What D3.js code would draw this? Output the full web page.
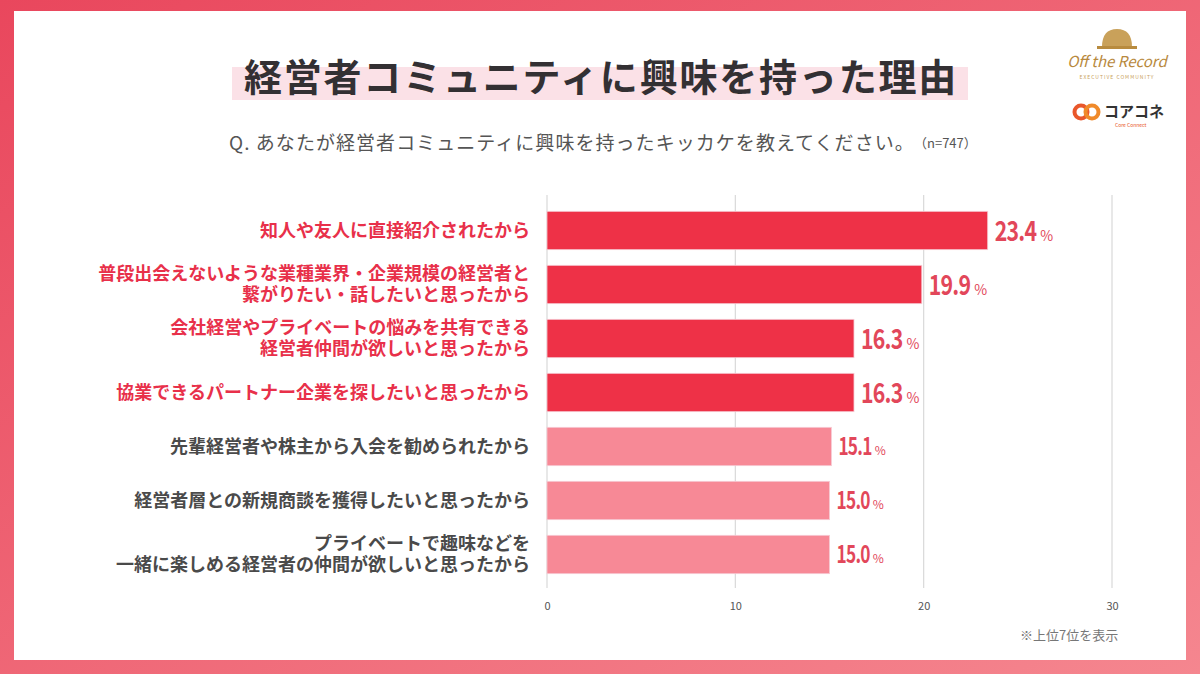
<!DOCTYPE html>
<html>
<head>
<meta charset="utf-8">
<script src="https://cdn.jsdelivr.net/npm/d3@7"></script>
<style>
  html, body { margin: 0; padding: 0; background: #fff; }
  svg { display: block; }
  text { font-family: "Noto Sans CJK JP", "Noto Sans", sans-serif; }
</style>
</head>
<body>
<div class="barChart"></div>
<script>
// data
var reasons = [
    ["知人や友人に直接紹介されたから"],
    ["普段出会えないような業種業界・企業規模の経営者と", "繋がりたい・話したいと思ったから"],
    ["会社経営やプライベートの悩みを共有できる", "経営者仲間が欲しいと思ったから"],
    ["協業できるパートナー企業を探したいと思ったから"],
    ["先輩経営者や株主から入会を勧められたから"],
    ["経営者層との新規商談を獲得したいと思ったから"],
    ["プライベートで趣味などを", "一緒に楽しめる経営者の仲間が欲しいと思ったから"]
];
var percents = [23.4, 19.9, 16.3, 16.3, 15.1, 15.0, 15.0];
var xTicks = [0, 10, 20, 30];

var titleText = "経営者コミュニティに興味を持った理由";
var questionText = "Q. あなたが経営者コミュニティに興味を持ったキッカケを教えてください。";
var sampleText = "（n=747）";
var noteText = "※上位7位を表示";

document.addEventListener('DOMContentLoaded', function() {
    barChart();
});

function barChart() {
    var width = 1200, height = 674;
    var svg = d3.select(".barChart").append("svg")
        .attr("width", width)
        .attr("height", height);

    var defs = svg.append("defs");
    var frameGrad = defs.append("linearGradient")
        .attr("id", "frameGrad")
        .attr("x1", "0%").attr("y1", "0%").attr("x2", "100%").attr("y2", "100%");
    frameGrad.append("stop").attr("offset", "0%").attr("stop-color", "#e9475d");
    frameGrad.append("stop").attr("offset", "100%").attr("stop-color", "#f5868f");

    // frame + white panel
    svg.append("rect").attr("width", width).attr("height", height).attr("fill", "url(#frameGrad)");
    svg.append("rect").attr("x", 14).attr("y", 11).attr("width", 1172).attr("height", 649).attr("fill", "#ffffff");

    // title with highlighter
    svg.append("rect")
        .attr("x", 232).attr("y", 67).attr("width", 736).attr("height", 33)
        .attr("fill", "#fbe1e7");
    svg.append("text")
        .attr("x", 601).attr("y", 91)
        .attr("text-anchor", "middle")
        .attr("font-size", 38).attr("font-weight", 700)
        .attr("letter-spacing", 1.8)
        .attr("fill", "#333033")
        .text(titleText);

    // question line
    svg.append("text")
        .attr("x", 229).attr("y", 150)
        .attr("font-size", 19).attr("letter-spacing", 1.05)
        .attr("fill", "#555")
        .text(questionText);
    svg.append("text")
        .attr("x", 914).attr("y", 148)
        .attr("font-size", 13)
        .attr("fill", "#555")
        .text(sampleText);

    // logos (simplified)
    var logo = svg.append("g");
    logo.append("path")
        .attr("d", "M1102,47 Q1102,29 1117,29 Q1132,29 1132,47 Z")
        .attr("fill", "#c9a15a");
    logo.append("rect").attr("x", 1097).attr("y", 46).attr("width", 40).attr("height", 3).attr("fill", "#b88b3f");
    logo.append("text")
        .attr("x", 1117).attr("y", 67)
        .attr("text-anchor", "middle")
        .attr("font-family", "DejaVu Serif, serif")
        .attr("font-style", "italic")
        .attr("font-size", 15)
        .attr("fill", "#b8893d")
        .text("Off the Record");
    logo.append("text")
        .attr("x", 1117).attr("y", 79)
        .attr("text-anchor", "middle")
        .attr("font-size", 5).attr("letter-spacing", 1)
        .attr("fill", "#c9a15a")
        .text("EXECUTIVE COMMUNITY");
    logo.append("circle").attr("cx", 1081).attr("cy", 112).attr("r", 6.5)
        .attr("fill", "none").attr("stroke", "#e9572b").attr("stroke-width", 4);
    logo.append("circle").attr("cx", 1092).attr("cy", 112).attr("r", 6.5)
        .attr("fill", "none").attr("stroke", "#f08a2a").attr("stroke-width", 4);
    logo.append("text")
        .attr("x", 1104).attr("y", 117)
        .attr("font-size", 15).attr("font-weight", 700)
        .attr("fill", "#333")
        .text("コアコネ");
    logo.append("text")
        .attr("x", 1115).attr("y", 127)
        .attr("font-size", 5)
        .attr("fill", "#e9572b")
        .text("Core Connect");

    // scales
    var xScale = d3.scaleLinear()
        .domain([0, 30])
        .range([547, 1112]);

    var yScale = d3.scaleBand()
        .domain(d3.range(percents.length))
        .range([203.5, 581.5])
        .paddingInner(0.29)
        .paddingOuter(0.145);

    // grid lines
    svg.append("g")
        .selectAll("line")
        .data(xTicks)
        .enter().append("line")
            .attr("x1", function(d) { return xScale(d); })
            .attr("x2", function(d) { return xScale(d); })
            .attr("y1", 195)
            .attr("y2", 588)
            .attr("stroke", "#d9d9d9")
            .attr("stroke-width", 1.2);

    // x axis
    var xAxis = svg.append("g")
        .attr("class", "x axis")
        .attr("transform", "translate(0,602)")
        .call(d3.axisBottom(xScale).tickValues(xTicks).tickSize(0).tickPadding(0));
    xAxis.select(".domain").remove();
    xAxis.selectAll("text")
        .attr("font-size", 11)
        .attr("fill", "#555")
        .attr("font-family", "Roboto, sans-serif");

    // bars
    svg.append("g")
        .selectAll("rect")
        .data(percents)
        .enter().append("rect")
            .attr("x", xScale(0))
            .attr("y", function(d, i) { return yScale(i); })
            .attr("width", function(d) { return xScale(d) - xScale(0); })
            .attr("height", yScale.bandwidth())
            .attr("fill", function(d, i) { return i < 4 ? "#ee3147" : "#f78996"; })
            .attr("stroke", "#f6cad3")
            .attr("stroke-width", 0.8);

    // category labels
    var labels = svg.append("g")
        .selectAll("text")
        .data(reasons)
        .enter().append("text")
            .attr("x", 530)
            .attr("text-anchor", "end")
            .attr("font-size", 18)
            .attr("font-weight", 700)
            .attr("fill", function(d, i) { return i < 4 ? "#e8304a" : "#4a4a4a"; })
            .attr("y", function(d, i) { return yScale(i) + yScale.bandwidth() / 2; });
    labels.each(function(lines) {
        var t = d3.select(this);
        var cy = +t.attr("y");
        lines.forEach(function(line, k) {
            var off = (k - (lines.length - 1) / 2) * 21.5;
            t.append("tspan")
                .attr("x", 530)
                .attr("y", cy + off + 6)
                .text(line);
        });
    });

    // value labels (condensed look by horizontal squeeze)
    var vals = svg.append("g");
    percents.forEach(function(v, i) {
        var big = i < 4;
        var fs = big ? 28 : 24;
        var sx = big ? 0.76 : 0.72;
        var x0 = xScale(v) + 7;
        var cy = yScale(i) + yScale.bandwidth() / 2;
        var num = vals.append("text")
            .attr("transform", "translate(" + x0 + "," + (cy + fs * 0.36) + ") scale(" + sx + ",1)")
            .attr("font-family", "Liberation Sans, Roboto, sans-serif")
            .attr("font-weight", 700)
            .attr("font-size", fs)
            .attr("letter-spacing", -1)
            .attr("fill", "#e2475a")
            .text(v.toFixed(1));
        var w = num.node().getComputedTextLength() * sx;
        vals.append("text")
            .attr("x", x0 + w + (big ? 4 : 3))
            .attr("y", cy + fs * 0.36)
            .attr("font-family", "Roboto, sans-serif")
            .attr("font-size", big ? 14 : 12)
            .attr("fill", "#e2475a")
            .text("%");
    });

    // footnote
    svg.append("text")
        .attr("x", 1020).attr("y", 640)
        .attr("font-size", 13)
        .attr("fill", "#777")
        .text(noteText);
}
</script>
</body>
</html>
